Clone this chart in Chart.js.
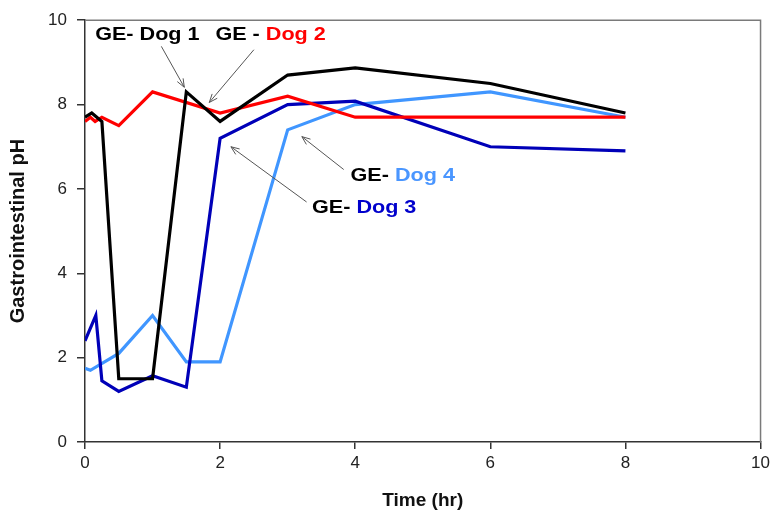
<!DOCTYPE html>
<html>
<head>
<meta charset="utf-8">
<script src="https://cdn.jsdelivr.net/npm/chart.js@4/dist/chart.umd.min.js"></script>
<style>
html,body{margin:0;padding:0;background:#fff;}
#wrap{width:774px;height:514px;}
</style>
</head>
<body>
<div id="wrap"><canvas id="c" width="774" height="514"></canvas></div>
<script>
// ---- Data (time in hr, gastrointestinal pH) ----
const dog1Time = [0, 0.1, 0.25, 0.5, 1.0, 1.5, 2, 3, 4, 6, 8];
const dog1PH   = [7.7, 7.8, 7.6, 1.5, 1.5, 8.3, 7.6, 8.7, 8.87, 8.5, 7.8];

const dog2Time = [0, 0.08, 0.15, 0.25, 0.5, 1.0, 2, 3, 4, 6, 8];
const dog2PH   = [7.6, 7.7, 7.6, 7.7, 7.5, 8.3, 7.8, 8.2, 7.7, 7.7, 7.7];

const dog3Time = [0, 0.16, 0.25, 0.5, 1.0, 1.5, 2, 3, 4, 6, 8];
const dog3PH   = [2.4, 3.0, 1.45, 1.2, 1.57, 1.3, 7.2, 8.0, 8.08, 7.0, 6.9];

const dog4Time = [0, 0.08, 0.5, 1.0, 1.5, 2, 3, 4, 6, 8];
const dog4PH   = [1.75, 1.7, 2.1, 3.0, 1.9, 1.9, 7.4, 8.0, 8.3, 7.7];

const xTicks = [0, 2, 4, 6, 8, 10];
const yTicks = [0, 2, 4, 6, 8, 10];

// Annotation labels: [prefix, dogText, dogColor, textX, textY, fromX, fromY, toX, toY]
const labelDog1 = ['GE- ', 'Dog 1', '#000000', 0.15, 9.53, 1.13, 9.38, 1.47, 8.41];
const labelDog2 = ['GE - ', 'Dog 2', '#ff0000', 1.93, 9.53, 2.50, 9.30, 1.84, 8.05];
const labelDog4 = ['GE- ', 'Dog 4', '#4a96ff', 3.93, 6.18, 3.83, 6.46, 3.21, 7.24];
const labelDog3 = ['GE- ', 'Dog 3', '#0000cc', 3.36, 5.43, 3.28, 5.69, 2.16, 7.00];
const labels = [labelDog1, labelDog2, labelDog4, labelDog3];

const toPts = (t, v) => t.map((x, i) => ({x: x, y: v[i]}));

function ds(label, t, v, color) {
  return {label, data: toPts(t, v), borderColor: color, backgroundColor: color,
    borderWidth: 3.2, pointRadius: 0, tension: 0, fill: false, borderJoinStyle: 'miter'};
}

const FONT = "'Liberation Sans', Arial, sans-serif";

const framePlugin = {
  id: 'frame',
  beforeDatasetsDraw(chart) {
    const {ctx, chartArea: a} = chart;
    ctx.save();
    ctx.strokeStyle = '#7a7a7a';
    ctx.lineWidth = 1.5;
    ctx.beginPath();
    ctx.moveTo(a.left, a.top); ctx.lineTo(a.right, a.top); ctx.lineTo(a.right, a.bottom);
    ctx.stroke();
    ctx.restore();
  }
};

const annotPlugin = {
  id: 'annot',
  afterDatasetsDraw(chart) {
    const {ctx} = chart;
    const xs = chart.scales.x, ys = chart.scales.y;
    ctx.save();
    labels.forEach(l => {
      const [pre, dog, col, tx, ty, fx, fy, ex, ey] = l;
      // arrow
      const x1 = xs.getPixelForValue(fx), y1 = ys.getPixelForValue(fy);
      const x2 = xs.getPixelForValue(ex), y2 = ys.getPixelForValue(ey);
      ctx.strokeStyle = '#555';
      ctx.lineWidth = 1;
      ctx.beginPath(); ctx.moveTo(x1, y1); ctx.lineTo(x2, y2); ctx.stroke();
      const ang = Math.atan2(y2 - y1, x2 - x1);
      const hl = 9, ha = 0.38;
      ctx.beginPath();
      ctx.moveTo(x2 - hl * Math.cos(ang - ha), y2 - hl * Math.sin(ang - ha));
      ctx.lineTo(x2, y2);
      ctx.lineTo(x2 - hl * Math.cos(ang + ha), y2 - hl * Math.sin(ang + ha));
      ctx.stroke();
      // text
      const px = xs.getPixelForValue(tx), py = ys.getPixelForValue(ty);
      ctx.save();
      ctx.translate(px, py);
      ctx.scale(1.2, 1);
      ctx.font = 'bold 18px ' + FONT;
      ctx.textBaseline = 'alphabetic';
      ctx.textAlign = 'left';
      ctx.fillStyle = '#000';
      ctx.fillText(pre, 0, 0);
      const w = ctx.measureText(pre).width;
      ctx.fillStyle = col;
      ctx.fillText(dog, w, 0);
      ctx.restore();
    });
    ctx.restore();
  }
};

new Chart(document.getElementById('c'), {
  type: 'line',
  data: {
    datasets: [
      ds('GE- Dog 1', dog1Time, dog1PH, '#000000'),
      ds('GE - Dog 2', dog2Time, dog2PH, '#ff0000'),
      ds('GE- Dog 3', dog3Time, dog3PH, '#0000b8'),
      ds('GE- Dog 4', dog4Time, dog4PH, '#4096ff')
    ]
  },
  options: {
    responsive: false,
    animation: false,
    layout: {padding: {left: 0, right: 10, top: 15, bottom: 0}},
    plugins: {legend: {display: false}, tooltip: {enabled: false}},
    scales: {
      x: {
        type: 'linear', min: 0, max: 10,
        afterBuildTicks: s => { s.ticks = xTicks.map(v => ({value: v})); },
        afterFit: s => { s.height = 72; },
        grid: {display: true, drawOnChartArea: false, drawTicks: true, tickLength: 7, color: '#333', lineWidth: 1.5},
        border: {display: true, color: '#333', width: 1.5},
        ticks: {color: '#222', font: {family: FONT, size: 17}, padding: 4, maxRotation: 0},
        title: {display: true, text: 'Time (hr)', color: '#111', font: {family: FONT, size: 19, weight: 'bold'}, padding: {top: 0, bottom: 2}}
      },
      y: {
        type: 'linear', min: 0, max: 10,
        afterBuildTicks: s => { s.ticks = yTicks.map(v => ({value: v})); },
        afterFit: s => { s.width = 85; },
        grid: {display: true, drawOnChartArea: false, drawTicks: true, tickLength: 8, color: '#333', lineWidth: 1.5},
        border: {display: true, color: '#333', width: 1.5},
        ticks: {color: '#222', font: {family: FONT, size: 17}, padding: 10},
        title: {display: true, text: 'Gastrointestinal pH', color: '#111', font: {family: FONT, size: 20, weight: 'bold'}, padding: {top: 6, bottom: 0}}
      }
    }
  },
  plugins: [framePlugin, annotPlugin]
});
</script>
</body>
</html>
